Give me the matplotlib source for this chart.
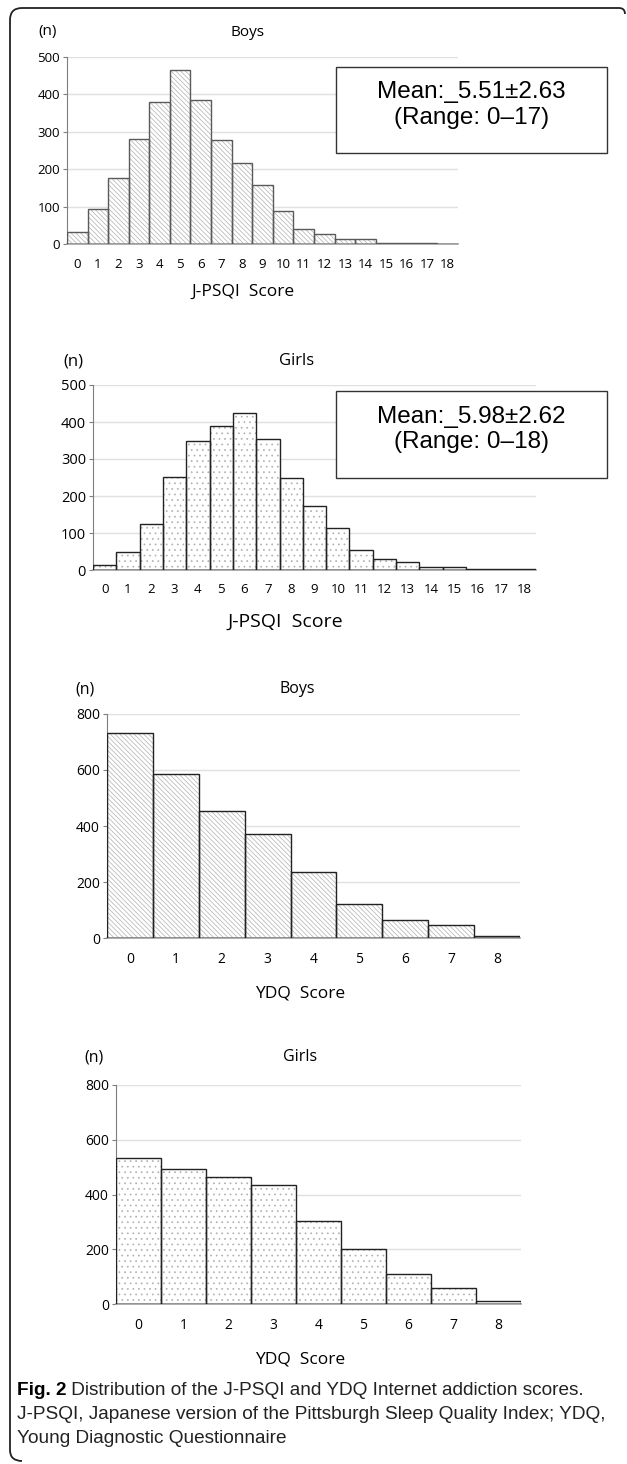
import matplotlib
matplotlib.use("Agg")
import matplotlib.pyplot as plt
from matplotlib.path import Path
from matplotlib.patches import PathPatch

W, H = 627, 1464

# J-PSQI score distributions (0-18)
psqi_scores = list(range(19))
psqi_boys = [32, 93, 176, 281, 379, 466, 385, 278, 216, 157, 87, 40, 27, 14, 14, 4, 4, 4, 0]
psqi_girls = [13, 48, 125, 251, 350, 390, 425, 355, 249, 172, 113, 53, 31, 21, 8, 8, 4, 2, 2]

# YDQ score distributions (0-8)
ydq_scores = list(range(9))
ydq_boys = [731, 584, 453, 371, 234, 121, 64, 45, 7]
ydq_girls = [533, 492, 464, 435, 303, 202, 111, 57, 10]

psqi_boys_note = "Mean:_5.51±2.63\n(Range: 0–17)"
psqi_girls_note = "Mean:_5.98±2.62\n(Range: 0–18)"

caption_bold = "Fig. 2"
caption_rest = " Distribution of the J-PSQI and YDQ Internet addiction scores."
caption_lines = ["J-PSQI, Japanese version of the Pittsburgh Sleep Quality Index; YDQ,",
                 "Young Diagnostic Questionnaire"]

CAP_FONT = "Liberation Sans"
AX_FONT = "Open Sans"
BOX_FONT = "Liberation Sans"

plt.rcParams["hatch.linewidth"] = 0.5

fig = plt.figure(figsize=(W / 100, H / 100), dpi=100)


def px_rect(left, right, top, bottom):
    return [left / W, 1 - bottom / H, (right - left) / W, (bottom - top) / H]


def fx(x):
    return x / W


def fy(y):
    return 1 - y / H


def panel(rect, scores, counts, ymax, ystep, hatch, edge, title, xlabel,
          xtick_fs, ytick_fs, label_fs, head_fs, n_xy, title_xy, label_xy, tick_pad):
    ax = fig.add_axes(rect)
    ax.bar(scores, counts, width=1.0, color="white", edgecolor="#b0b0b0",
           hatch=hatch, linewidth=0, zorder=2)
    ax.bar(scores, counts, width=1.0, fill=False, edgecolor=edge,
           linewidth=1.0, zorder=3)
    ax.set_xlim(-0.5, len(scores) - 0.5)
    ax.set_ylim(0, ymax)
    ax.set_yticks(range(0, ymax + 1, ystep))
    ax.set_xticks(scores)
    ax.grid(axis="y", color="#e0e0e0", linewidth=1.0, zorder=0)
    ax.set_axisbelow(True)
    for s in ["top", "right"]:
        ax.spines[s].set_visible(False)
    ax.spines["left"].set_color("#7f7f7f")
    ax.spines["bottom"].set_color("#a0a0a0")
    ax.spines["bottom"].set_linewidth(1.2)
    ax.tick_params(axis="y", length=3, color="#7f7f7f", labelsize=ytick_fs, pad=2)
    ax.tick_params(axis="x", length=0, labelsize=xtick_fs, pad=tick_pad)
    for lab in ax.get_xticklabels() + ax.get_yticklabels():
        lab.set_fontfamily(AX_FONT)
    fig.text(fx(n_xy[0]), fy(n_xy[1]), "(n)", ha="center", va="center",
             fontsize=head_fs, family=AX_FONT)
    fig.text(fx(title_xy[0]), fy(title_xy[1]), title, ha="center", va="center",
             fontsize=head_fs, family=AX_FONT)
    fig.text(fx(label_xy[0]), fy(label_xy[1]), xlabel, ha="center", va="center",
             fontsize=label_fs, family=AX_FONT)
    return ax


def note_box(left, right, top, bottom, text):
    rect = plt.Rectangle((fx(left), fy(bottom)), fx(right) - fx(left), fy(top) - fy(bottom),
                         transform=fig.transFigure, facecolor="white",
                         edgecolor="#333333", linewidth=1.0, zorder=5)
    fig.add_artist(rect)
    fig.text(fx((left + right) / 2), fy((top + bottom) / 2 - 5), text, ha="center",
             va="center", fontsize=17.5, family=BOX_FONT, linespacing=1.2, zorder=6)


panel(px_rect(67, 458, 57, 244), psqi_scores, psqi_boys, 500, 100, "\\\\\\\\\\\\\\", "#5a5a5a",
      "Boys", "J-PSQI  Score", 9.5, 9.5, 12.5, 11, (48, 32), (248, 32), (243, 292), 10)
note_box(336, 607, 67, 153, psqi_boys_note)

panel(px_rect(93, 536, 385, 570), psqi_scores, psqi_girls, 500, 100, "...", "#222222",
      "Girls", "J-PSQI  Score", 9.5, 10.5, 14, 12, (73, 361), (297, 361), (285, 622), 9)
note_box(336, 607, 391, 478, psqi_girls_note)

panel(px_rect(107, 520, 714, 938), ydq_scores, ydq_boys, 800, 200, "\\\\\\\\\\\\\\", "#222222",
      "Boys", "YDQ  Score", 10, 10, 12.5, 11.5, (85, 689), (297, 689), (300, 993), 10)

panel(px_rect(116, 521, 1085, 1304), ydq_scores, ydq_girls, 800, 200, "...", "#222222",
      "Girls", "YDQ  Score", 10, 10, 12.5, 11.5, (94, 1057), (300, 1057), (300, 1360), 10)

# caption
t1 = fig.text(fx(17), fy(1395), caption_bold, ha="left", va="baseline",
              fontsize=13.7, fontweight="bold", family=CAP_FONT)
fig.canvas.draw()
bb = t1.get_window_extent()
fig.text(bb.x1 / W, fy(1395), caption_rest, ha="left", va="baseline",
         fontsize=13.7, family=CAP_FONT, color="#222222")
for i, line in enumerate(caption_lines):
    fig.text(fx(17), fy(1419 + 24 * i), line, ha="left", va="baseline",
             fontsize=13.7, family=CAP_FONT, color="#222222")

# figure frame (left and top edges with rounded corners)
verts = [(22, 1461), (10, 1461), (10, 1450),
         (10, 20), (10, 8), (22, 8),
         (619, 8), (625, 8), (625, 14)]
codes = [Path.MOVETO, Path.CURVE3, Path.CURVE3,
         Path.LINETO, Path.CURVE3, Path.CURVE3,
         Path.LINETO, Path.CURVE3, Path.CURVE3]
frame = Path([(fx(x), fy(y)) for x, y in verts], codes)
fig.add_artist(PathPatch(frame, transform=fig.transFigure, fill=False,
                         edgecolor="#222222", linewidth=1.3))

plt.savefig("out.png", dpi=100)
